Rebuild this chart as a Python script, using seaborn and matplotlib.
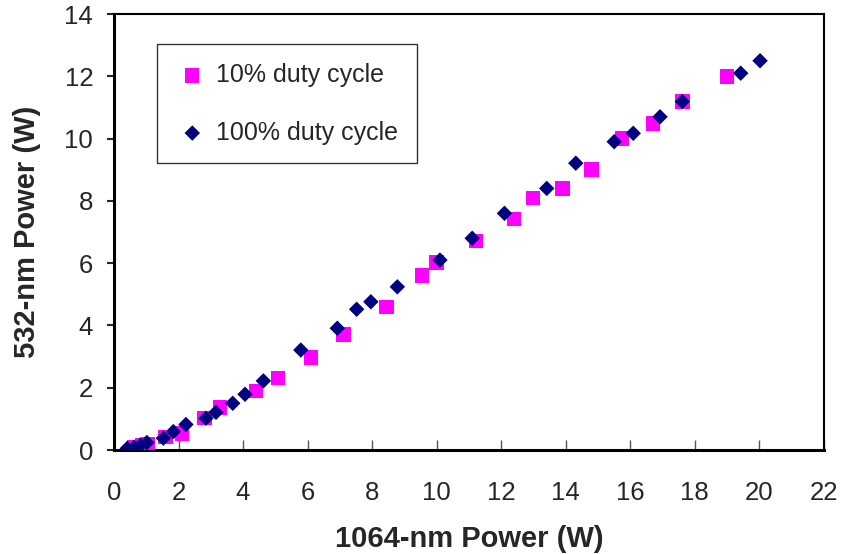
import matplotlib
matplotlib.use("Agg")
import matplotlib.pyplot as plt
import seaborn as sns
import pandas as pd

# 10% duty cycle (magenta squares)
x10 = [0.62, 0.88, 1.05, 1.60, 2.10, 2.80, 3.28, 4.40, 5.09, 6.10, 7.11, 8.45, 9.55,
       10.00, 11.21, 12.40, 12.99, 13.90, 14.80, 15.75, 16.71, 17.61, 19.00]
y10 = [0.10, 0.14, 0.20, 0.42, 0.53, 1.02, 1.37, 1.90, 2.32, 2.97, 3.71, 4.60, 5.61,
       6.02, 6.71, 7.41, 8.10, 8.40, 9.01, 10.00, 10.49, 11.19, 12.00]

# 100% duty cycle (navy diamonds)
x100 = [0.41, 0.62, 0.82, 1.02, 1.53, 1.84, 2.23, 2.85, 3.16, 3.68, 4.06, 4.63, 5.79,
        6.92, 7.52, 7.96, 8.78, 10.10, 11.10, 12.10, 13.41, 14.31, 15.50, 16.09, 16.92,
        17.61, 19.42, 20.02]
y100 = [0.05, 0.09, 0.16, 0.24, 0.38, 0.59, 0.82, 1.02, 1.21, 1.50, 1.79, 2.22, 3.21,
        3.91, 4.52, 4.76, 5.24, 6.10, 6.80, 7.60, 8.40, 9.21, 9.90, 10.17, 10.70,
        11.19, 12.10, 12.50]

labels = ["10% duty cycle", "100% duty cycle"]
xticks = list(range(0, 23, 2))
yticks = list(range(0, 15, 2))

sns.set_style("white")
plt.rcParams['font.family'] = ['Liberation Sans', 'DejaVu Sans']

df10 = pd.DataFrame({"x": x10, "y": y10})
df100 = pd.DataFrame({"x": x100, "y": y100})

fig = plt.figure(figsize=(8.55, 5.54), dpi=100)
ax = fig.add_axes([0.1333, 0.1877, 0.9637 - 0.1333, 0.9747 - 0.1877])

sns.scatterplot(data=df10, x="x", y="y", ax=ax, marker="s", s=108, color="#FF00FF",
                edgecolor="none", linewidth=0, label=labels[0], zorder=3)
sns.scatterplot(data=df100, x="x", y="y", ax=ax, marker="D", s=62, color="#000080",
                edgecolor="none", linewidth=0, label=labels[1], zorder=4)

ax.set_xlim(0, 22)
ax.set_ylim(0, 14)
ax.set_xticks(xticks)
ax.set_yticks(yticks)
ax.tick_params(axis="x", direction="in", length=7, width=1, labelsize=18.5, pad=22,
               color="#555555", bottom=True)
ax.tick_params(axis="y", direction="out", length=5, width=1.5, labelsize=18.5, pad=10,
               left=True)

ax.set_xlabel("1064-nm Power (W)", fontsize=21, fontweight="bold", labelpad=15)
ax.set_ylabel("532-nm Power (W)", fontsize=21, fontweight="bold", labelpad=17)

for side in ["left", "bottom"]:
    ax.spines[side].set_linewidth(2.2)
    ax.spines[side].set_color("black")
for side in ["top", "right"]:
    ax.spines[side].set_linewidth(1.5)
    ax.spines[side].set_color("black")
    ax.spines[side].set_visible(True)

leg = ax.legend(loc="upper left", bbox_to_anchor=(0.061, 0.931), fontsize=18,
                frameon=True, fancybox=False, borderpad=0.75, labelspacing=1.35,
                handlelength=1.3, handletextpad=0.3, markerscale=1.0, borderaxespad=0)
leg.get_frame().set_edgecolor("black")
leg.get_frame().set_linewidth(1.0)

fig.savefig("out.png", dpi=100)
